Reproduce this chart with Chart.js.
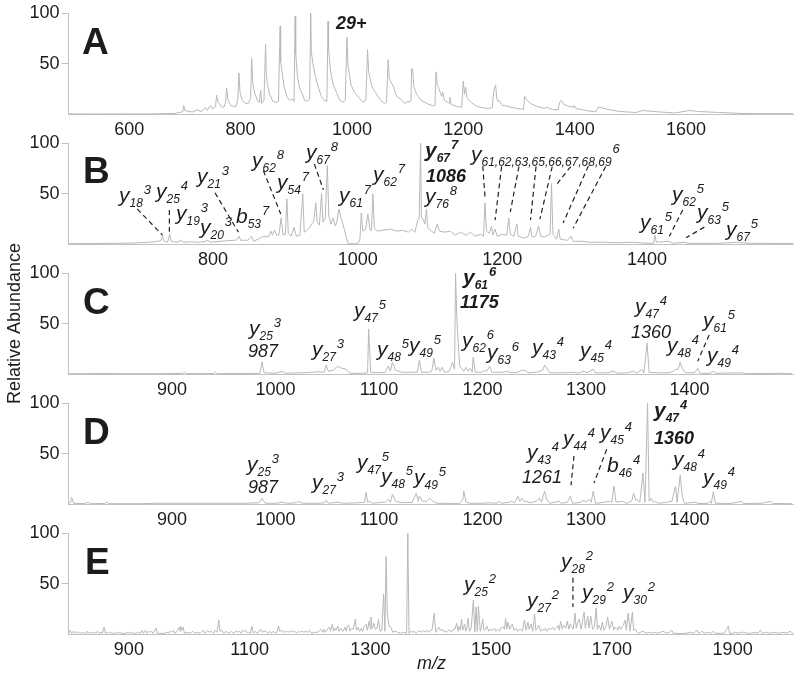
<!DOCTYPE html>
<html>
<head>
<meta charset="utf-8">
<title>Relative Abundance vs m/z</title>
<script src="https://cdn.jsdelivr.net/npm/chart.js@4"></script>
<style>
  html, body { margin: 0; padding: 0; background: #fff; }
  #wrap { position: relative; width: 800px; height: 676px; overflow: hidden; }
  #wrap canvas { position: absolute; left: 0; top: 0; }
</style>
</head>
<body>
<div id="wrap">
  <canvas id="panel-a" width="800" height="676"></canvas>
  <canvas id="panel-b" width="800" height="676"></canvas>
  <canvas id="panel-c" width="800" height="676"></canvas>
  <canvas id="panel-d" width="800" height="676"></canvas>
  <canvas id="panel-e" width="800" height="676"></canvas>
</div>
<script>
// spectra as [m/z, relative abundance]
const spectrumA = [[491,.6],[540,.5],[584,.6],[586,1.6],[588,.6],[640,.6],[680,1],[690,2],[696,2.5],[698,9],[700,4],[707,3],[714,2.5],[722,4.5],[730,3],[737,7],[740,4],[746,9],[750,5.5],[755,8],[757,19],[759,13],[765,8],[770,7],[773,12],[775,26],[777,15],[782,9],[788,8],[792,8],[795,15],[797,41],[799,22],[803,14],[808,11],[814,11],[818,16],[820,55],[822,30],[826,20],[831,13],[834,12],[836,24],[838,11],[842,14],[845,69],[846,42],[848,30],[852,20],[858,13],[864,12],[868,13],[871,87],[872,52],[874,44],[878,28],[883,18],[888,14],[892,15],[894,15],[896,13],[898,97],[899,60],[902,38],[906,26],[911,20],[915,14],[919,13],[924,15],[926,100],[927,62],[930,50],[934,38],[940,26],[945,18],[950,14],[955,13],[957,92],[958,66],[961,45],[966,30],[972,22],[978,14],[984,12],[988,14],[991,76],[993,48],[998,30],[1004,22],[1012,17],[1020,12],[1025,14],[1028,64],[1030,42],[1036,27],[1042,22],[1050,15],[1058,11],[1062,12],[1065,54],[1067,36],[1070,32],[1074,28],[1080,18],[1088,15],[1095,11],[1100,13],[1104,12],[1106,14],[1107,45],[1109,45],[1111,28],[1116,20],[1124,14],[1134,11],[1145,8.5],[1149,9],[1151,42],[1153,30],[1157,24],[1161,18],[1163,22],[1166,14],[1172,12],[1175,11],[1176,17],[1178,10],[1188,8],[1197,7],[1200,33],[1202,20],[1204,27],[1207,16],[1214,12],[1224,8],[1236,6.5],[1246,6],[1252,7],[1254,20],[1256,26],[1258,29],[1260,16],[1262,13],[1264,14],[1270,9],[1280,8],[1295,6],[1308,5],[1310,18],[1313,15],[1320,11],[1332,8],[1345,6],[1350,7],[1360,5],[1370,4.5],[1373,12],[1376,14],[1380,10],[1390,8],[1398,7],[1399,9],[1402,6],[1420,4],[1438,2.5],[1442,7],[1446,7],[1460,5],[1480,3],[1510,2],[1523,4],[1540,3],[1580,1.5],[1607,4],[1620,3],[1660,2],[1700,1],[1730,.8],[1792,.8]];

const spectrumB = [[600,.6],[640,.8],[665,1],[690,1.2],[712,2],[724,3],[728,4],[730,8],[732,3],[737,2],[740,10],[742,3],[750,2],[756,4],[758,2],[770,2.5],[780,2],[790,3],[793,4],[796,2],[810,3],[820,3.5],[828,4],[832,4],[836,8],[838,4],[845,4],[848,4],[853,8],[856,3],[862,5],[867,7],[872,8],[876,7],[880,13],[882,9],[885,14],[888,9],[891,9],[894,26],[897,9],[900,10],[902,45],[904,11],[908,8],[912,17],[915,8],[920,9],[924,50],[926,12],[930,14],[934,17],[936,20],[939,22],[942,41],[944,22],[947,19],[950,50],[952,22],[955,26],[958,78],[960,28],[963,20],[966,26],[969,18],[971,22],[974,35],[977,26],[981,16],[984,7],[987,.5],[1000,.5],[1003,5],[1005,31],[1007,13],[1011,15],[1014,30],[1017,14],[1019,14],[1021,50],[1023,16],[1027,13],[1035,14],[1045,15],[1055,13],[1062,14],[1070,12],[1075,15],[1079,12],[1083,24],[1085,26],[1087,100],[1088,27],[1091,24],[1093,20],[1095,35],[1097,16],[1102,13],[1106,11],[1110,20],[1113,13],[1120,12],[1128,13],[1135,9],[1142,12],[1150,9],[1156,12],[1162,8],[1170,10],[1174,8],[1176,41],[1178,13],[1182,11],[1185,18],[1187,9],[1190,15],[1193,8],[1200,10],[1206,9],[1209,26],[1211,10],[1216,8],[1220,20],[1222,8],[1230,6],[1236,8],[1239,17],[1241,7],[1246,8],[1250,18],[1253,8],[1258,7],[1263,9],[1266,10],[1268,60],[1270,10],[1275,5],[1278,15],[1280,5],[1290,4],[1295,8],[1298,3],[1310,3],[1320,2],[1340,2],[1360,1.5],[1380,2],[1400,1],[1409,1],[1411,9],[1413,2],[1431,3],[1435,1],[1452,2],[1456,1],[1500,1],[1524,2],[1540,1],[1602,.8]];

const spectrumC = [[800,.5],[830,.8],[860,.6],[880,.6],[910,.8],[912,2],[914,.7],[940,.7],[942,2],[944,.7],[975,.8],[985,1],[987,12.5],[989,1.5],[1000,1],[1006,3],[1010,1],[1025,1.5],[1035,2],[1042,2.5],[1047,2],[1049,9],[1051,3],[1056,4],[1060,8],[1064,6],[1068,5],[1072,1],[1085,1],[1089,1.5],[1090,45],[1092,2],[1100,1.5],[1106,2],[1109,8],[1111,3],[1113,12],[1116,4],[1122,2],[1130,2],[1137,2],[1139,14],[1141,2],[1148,2],[1151,3],[1153,16],[1155,4],[1157,7],[1159,3],[1161,7],[1163,2],[1168,3],[1171,12],[1173,5],[1174,100],[1175,60],[1176,40],[1178,8],[1180,6],[1182,3],[1184,7],[1186,3],[1188,6],[1190,2],[1191,17],[1193,2],[1199,2],[1202,4],[1204,3],[1207,8],[1209,2],[1220,2],[1223,3],[1228,1.5],[1234,2],[1238,4],[1241,4],[1244,1.5],[1252,2],[1258,4],[1260,9],[1262,6],[1265,1.5],[1280,1.5],[1288,2],[1292,1],[1298,3],[1301,1.5],[1307,5],[1309,1.5],[1322,1.5],[1325,3],[1327,3],[1330,1],[1340,1.5],[1346,3],[1349,1],[1354,5],[1356,1.5],[1359,31],[1361,2],[1368,1.5],[1380,1.5],[1384,3],[1387,5],[1389,5],[1391,12],[1393,6],[1396,1.5],[1405,1.5],[1408,6],[1410,1],[1420,1],[1423,3],[1425,1],[1450,1.5],[1455,.7],[1478,.8],[1485,1],[1499,.6]];

const spectrumD = [[800,.6],[802,2],[803,7],[805,1],[815,.6],[819,2],[821,.6],[835,.8],[837,2],[839,.6],[870,.6],[885,1],[920,1],[945,1],[970,1],[984,1.5],[987,6],[990,1],[1000,1],[1006,2],[1012,1],[1020,1.5],[1022,3],[1026,1],[1040,1],[1047,1.5],[1049,4],[1051,1],[1060,2],[1066,1],[1080,1.5],[1086,2],[1087.5,12],[1089,2],[1091,3],[1094,1],[1102,2],[1106,2],[1109,5],[1111,2],[1113,10],[1116,3],[1122,1.5],[1132,2],[1136,11],[1138,3],[1139,8],[1142,3],[1146,3],[1149,6],[1152,3],[1156,1],[1178,.8],[1181,5],[1182,13],[1184,2],[1188,1],[1200,1],[1208,1.5],[1214,1],[1216,3],[1218,1],[1226,2],[1228,3],[1231,1.5],[1234,8],[1236,3],[1238,6],[1240,3],[1242,3],[1246,1.5],[1252,3],[1255,6],[1257,2],[1260,13],[1262,5],[1265,1],[1274,3],[1276,1],[1282,2],[1285,8],[1287,1],[1295,2],[1298,4],[1300,2],[1303,5],[1305,2],[1307,13],[1309,1],[1318,2],[1323,3],[1325,2],[1327,18],[1329,2],[1335,3],[1339,1],[1344,3],[1346,11],[1348,4],[1349,5],[1352,2],[1355,31],[1357,2],[1359.5,100],[1361,3],[1363,6],[1365,2],[1367,3],[1370,1],[1378,2],[1383,3],[1386.5,18],[1388,2],[1391,29],[1393,8],[1395,1],[1406,2],[1408,.8],[1418,1],[1420,3],[1421,1],[1423,12],[1425,1],[1440,.8],[1450,3],[1452,.8],[1470,1],[1478,3],[1481,.8],[1499,.6]];

const spectrumE = [[800,1],[803,4],[805,1],[808,3],[810,1],[813,3],[815,1],[818,2],[821,1],[824,2],[826,1],[829,1],[831,3],[833,1],[836,2],[838,1],[842,2],[845,1],[848,3],[850,1],[854,2],[856,1],[859,7],[861,1],[864,2],[866,1],[870,2],[872,1],[876,1],[879,2],[881,1],[885,2],[888,.8],[892,1],[895,1],[899,2],[902,1],[905,2],[908,.8],[912,1],[916,2],[919,1],[922,4],[924,1],[928,4],[930,1],[933,3],[935,2],[938,3],[940,1],[945,6],[947,1],[952,1],[958,.8],[963,2],[966,1],[968,3],[971,2],[974,4],[976,1],[980,3],[983,7],[985,3],[986,8],[988,4],[990,7],[992,1],[996,2],[1000,1],[1004,2],[1006,3],[1009,1],[1013,2],[1018,1],[1023,4],[1026,1],[1030,4],[1033,2],[1037,3],[1040,1],[1043,4],[1046,2],[1049,14],[1051,3],[1054,4],[1057,1],[1061,3],[1065,1],[1068,2],[1070,3],[1073,1],[1077,3],[1080,2],[1083,3],[1086,1],[1088,4],[1090,3],[1093,4],[1095,2],[1098,2],[1101,1],[1104,8],[1106,1],[1109,3],[1112,1],[1115,2],[1118,5],[1121,2],[1124,3],[1127,3],[1130,1],[1133,3],[1136,1],[1139,3],[1142,1],[1145,2],[1148,8],[1150,3],[1153,4],[1155,2],[1158,3],[1160,2],[1163,3],[1166,2],[1169,4],[1172,2],[1175,3],[1178,1],[1181,3],[1184,2],[1187,3],[1190,2],[1193,3],[1196,2],[1199,4],[1203,1],[1207,2],[1213,2],[1216,4],[1218,5],[1221,2],[1223,5],[1225,2],[1228,4],[1230,6],[1232,7],[1234,3],[1237,10],[1239,3],[1241,6],[1243,4],[1246,8],[1248,3],[1251,6],[1253,4],[1255,3],[1258,7],[1260,3],[1262,8],[1264,9],[1266,3],[1269,6],[1272,5],[1275,15],[1277,4],[1280,7],[1282,3],[1285,6],[1287,3],[1290,8],[1293,10],[1295,4],[1298,13],[1300,5],[1301,17],[1303,6],[1306,11],[1308,5],[1311,6],[1313.5,15],[1316,3],[1319,4],[1322,40],[1324,3],[1326,77],[1328,20],[1331,8],[1334,7],[1337,2],[1341,3],[1345,2],[1350,1],[1355,2],[1360,1],[1362,100],[1364,1],[1367,3],[1370,2],[1373,3],[1376,1],[1379,3],[1382,3],[1385,2],[1388,4],[1391,2],[1394,4],[1397,2],[1400,4],[1402,4],[1405.9,21],[1408,2],[1411,5],[1413,7],[1416,4],[1419,5],[1421,3],[1424,3],[1426,2],[1429,4],[1432,4],[1434,2],[1437,5],[1440,5],[1443,11],[1445,3],[1447,8],[1449,4],[1451,15],[1453,4],[1456,10],[1458,3],[1460,7],[1462,16],[1464,3],[1467,6],[1470.6,34],[1473,2],[1475,27],[1477,3],[1479,28],[1482,3],[1484,7],[1486,15],[1488,4],[1491,5],[1493,8],[1496,3],[1499,5],[1502,4],[1505,6],[1508,3],[1511,5],[1514,3],[1517,7],[1520,7],[1522,5],[1524,16],[1526,5],[1528,12],[1531,5],[1533,8],[1535,10],[1538,4],[1541,6],[1544,3],[1547,5],[1549,5],[1552,3],[1555,14],[1558,4],[1561,12],[1563,5],[1566,10],[1569,3],[1572,20],[1574,4],[1577,7],[1579,9],[1582,3],[1585,5],[1588,4],[1590,6],[1593,3],[1596,6],[1599,5],[1602,7],[1605,4],[1608,6],[1611,9],[1613,4],[1615,13],[1618,5],[1620,9],[1622,8],[1624,6],[1626,13],[1629,5],[1631,10],[1633,8],[1636,5],[1639,21],[1641,6],[1643,11],[1646,15],[1649,5],[1651,12],[1654,22],[1656,6],[1658,12],[1660,18],[1662,6],[1665,18],[1668,5],[1671,7],[1674,26],[1676,5],[1678,9],[1680,7],[1682,4],[1684,12],[1687,4],[1690,7],[1693,17],[1696,5],[1698,9],[1700,13],[1703,4],[1705,7],[1708,6],[1710,4],[1712,8],[1715,5],[1717,8],[1719,9],[1722,14],[1724,4],[1727,21],[1730,3],[1734,22],[1736,4],[1739,5],[1742,2],[1745,1],[1750,3],[1755,2],[1758,1],[1762,2],[1766,1],[1770,2],[1776,1],[1780,2],[1785,3],[1790,1],[1795,2],[1799,4],[1802,1],[1808,1],[1815,.6],[1822,1],[1830,2],[1835,1],[1838,2],[1841,4],[1844,1],[1847,2],[1850,3],[1853,1],[1860,2],[1864,1],[1868,3],[1871,1],[1880,1],[1886,1],[1893,8],[1895,1],[1900,1],[1905,2],[1910,1],[1915,2],[1920,2],[1925,1],[1930,1],[1938,2],[1942,1],[1946,4],[1949,1],[1956,2],[1962,1],[1970,2],[1976,1],[1985,2],[1990,1],[1995,3],[2000,1]];

// x axis ranges and tick labels of each panel
const rangeA = [491, 1792];
const rangeB = [600, 1602];
const rangeCD = [800, 1500];
const rangeE = [800, 2000];
const ticksA = [600, 800, 1000, 1200, 1400, 1600];
const ticksB = [800, 1000, 1200, 1400];
const ticksCD = [900, 1000, 1100, 1200, 1300, 1400];
const ticksE = [900, 1100, 1300, 1500, 1700, 1900];
const yTicks = [50, 100];

// dashed leaders from label to peak, [[m/z, abundance], [m/z, abundance]]
const leadersB = [
    [[695,35],[730,9]], [[739.5,34],[739.5,12.5]], [[802.6,51],[835,12]],
    [[869.5,73],[893.5,30]], [[940,79.5],[952.5,54]], [[1173,77.5],[1176,47]],
    [[1199,77],[1190,24]], [[1223,77],[1211,32]], [[1246.6,77],[1239,24]],
    [[1269,77],[1252,25]], [[1294.6,77],[1276,60]], [[1319,77.5],[1284,21]],
    [[1343,77],[1298,16]], [[1449.5,34],[1431,8]], [[1479.4,17],[1454,6.5]]
];
const leadersC = [[[1419,39],[1408,13]]];
const leadersD = [[[1288.4,48],[1285.5,19]], [[1320,54.5],[1307.7,21]]];
const leadersE = [[[1635.5,56],[1635.5,27]]];

const FAMILY = '"Liberation Sans", Arial, sans-serif';
const INK = '#1c1c1c';
const TRACE = '#b8b8b8';
const AXIS = '#c2c2c2';

// annotation helpers
function ion(base, sub, sup, x, y, bold) {
    return { kind: 'ion', base, sub, sup, x, y, bold };
}
function word(text, x, y, font) {
    return { kind: 'word', text, x, y, font };
}
function panelLetter(text, x, y) {
    return word(text, x, y, 'bold 37px ' + FAMILY);
}
function figure(text, x, y) {
    return word(text, x, y, 'italic 18px ' + FAMILY);
}
function boldFigure(text, x, y) {
    return word(text, x, y, 'italic bold 18px ' + FAMILY);
}

const notesA = [
    panelLetter('A', 82, 54),
    boldFigure('29+', 336, 29)
];
const notesB = [
    panelLetter('B', 83, 183),
    ion('y', '18', '3', 119, 202), ion('y', '25', '4', 156, 198), ion('y', '19', '3', 176, 220),
    ion('y', '20', '3', 200, 234), ion('y', '21', '3', 197, 183), ion('b', '53', '7', 236, 223),
    ion('y', '62', '8', 252, 167), ion('y', '54', '7', 277, 189), ion('y', '67', '8', 306, 159),
    ion('y', '61', '7', 339, 202), ion('y', '62', '7', 373, 181),
    ion('y', '67', '7', 425, 157, true), boldFigure('1086', 426, 182), ion('y', '76', '8', 425, 203),
    ion('y', '61,62,63,65,66,67,68,69', '6', 471, 161),
    ion('y', '62', '5', 672, 201), ion('y', '61', '5', 640, 229), ion('y', '63', '5', 697, 219), ion('y', '67', '5', 726, 236)
];
const notesC = [
    panelLetter('C', 83, 314),
    ion('y', '25', '3', 249, 335), figure('987', 248, 357), ion('y', '27', '3', 312, 356),
    ion('y', '47', '5', 354, 317), ion('y', '48', '5', 377, 356), ion('y', '49', '5', 409, 352),
    ion('y', '61', '6', 463, 284, true), boldFigure('1175', 460, 308),
    ion('y', '62', '6', 462, 347), ion('y', '63', '6', 487, 359), ion('y', '43', '4', 532, 354),
    ion('y', '45', '4', 580, 357), ion('y', '47', '4', 635, 313), figure('1360', 631, 338),
    ion('y', '48', '4', 667, 352), ion('y', '61', '5', 703, 327), ion('y', '49', '4', 707, 362),
    { kind: 'title', text: 'Relative Abundance', x: 20, y: 323.5 }
];
const notesD = [
    panelLetter('D', 83, 444),
    ion('y', '25', '3', 247, 471), figure('987', 248, 493), ion('y', '27', '3', 312, 489),
    ion('y', '47', '5', 357, 469), ion('y', '48', '5', 381, 483), ion('y', '49', '5', 414, 484),
    ion('y', '43', '4', 527, 459), figure('1261', 522, 483), ion('y', '44', '4', 563, 445),
    ion('y', '45', '4', 600, 439), ion('b', '46', '4', 607, 472),
    ion('y', '47', '4', 654, 417, true), boldFigure('1360', 654, 444),
    ion('y', '48', '4', 673, 466), ion('y', '49', '4', 703, 484)
];
const notesE = [
    panelLetter('E', 85, 574),
    ion('y', '25', '2', 464, 591), ion('y', '27', '2', 527, 607), ion('y', '28', '2', 561, 568),
    ion('y', '29', '2', 582, 599), ion('y', '30', '2', 623, 599),
    figure('m/z', 417, 669)
];

const notesPlugin = {
    id: 'notes',
    afterDatasetsDraw(chart, args, opts) {
        const ctx = chart.ctx;
        ctx.save();
        ctx.fillStyle = INK;
        ctx.textBaseline = 'alphabetic';
        ctx.textAlign = 'left';
        (opts.items || []).forEach(n => {
            if (n.kind === 'word') {
                ctx.font = n.font;
                ctx.fillText(n.text, n.x, n.y);
            } else if (n.kind === 'title') {
                ctx.save();
                ctx.translate(n.x, n.y);
                ctx.rotate(-Math.PI / 2);
                ctx.textAlign = 'center';
                ctx.font = '18px ' + FAMILY;
                ctx.fillText(n.text, 0, 0);
                ctx.restore();
            } else {
                const w = n.bold ? 'italic bold ' : 'italic ';
                ctx.font = w + '21px ' + FAMILY;
                ctx.fillText(n.base, n.x, n.y);
                const subX = n.x + ctx.measureText(n.base).width;
                ctx.font = w + '12px ' + FAMILY;
                ctx.fillText(n.sub, subX, n.y + 5);
                const supX = subX + ctx.measureText(n.sub).width + 1;
                ctx.font = w + '13px ' + FAMILY;
                ctx.fillText(n.sup, supX, n.y - 8);
            }
        });
        ctx.restore();
    }
};

function drawPanel(id, spectrum, range, xTicks, yTop, yBase, leaders, notes) {
    const datasets = [{
        data: spectrum,
        borderColor: TRACE,
        borderWidth: 1,
        pointRadius: 0,
        tension: 0
    }];
    leaders.forEach(l => datasets.push({
        data: l,
        borderColor: '#222',
        borderWidth: 1.2,
        borderDash: [5, 3.5],
        pointRadius: 0,
        tension: 0
    }));

    new Chart(document.getElementById(id), {
        type: 'line',
        data: { datasets: datasets },
        options: {
            responsive: false,
            animation: false,
            events: [],
            clip: false,
            layout: { padding: { left: 0, right: 7, top: yTop, bottom: 676 - yBase - 30 } },
            plugins: {
                legend: { display: false },
                tooltip: { enabled: false },
                notes: { items: notes }
            },
            scales: {
                x: {
                    type: 'linear',
                    min: range[0],
                    max: range[1],
                    afterBuildTicks: s => { s.ticks = xTicks.map(v => ({ value: v })); },
                    afterFit: s => { s.height = 30; },
                    grid: { display: false, drawTicks: false },
                    border: { color: AXIS, width: 1 },
                    ticks: {
                        color: INK,
                        font: { family: FAMILY, size: 18 },
                        padding: 5,
                        maxRotation: 0,
                        autoSkip: false,
                        callback: v => String(v)
                    }
                },
                y: {
                    min: 0,
                    max: 100,
                    afterBuildTicks: s => { s.ticks = yTicks.map(v => ({ value: v })); },
                    afterFit: s => { s.width = 68.5; },
                    grid: { drawOnChartArea: false, drawTicks: true, tickLength: 7, color: AXIS },
                    border: { color: AXIS, width: 1 },
                    ticks: {
                        color: INK,
                        font: { family: FAMILY, size: 18 },
                        padding: 2
                    }
                }
            }
        },
        plugins: [notesPlugin]
    });
}

drawPanel('panel-a', spectrumA, rangeA, ticksA, 13, 114.5, [], notesA);
drawPanel('panel-b', spectrumB, rangeB, ticksB, 143.3, 244.3, leadersB, notesB);
drawPanel('panel-c', spectrumC, rangeCD, ticksCD, 273.3, 374.3, leadersC, notesC);
drawPanel('panel-d', spectrumD, rangeCD, ticksCD, 403.3, 504.3, leadersD, notesD);
drawPanel('panel-e', spectrumE, rangeE, ticksE, 533.3, 634.3, leadersE, notesE);
</script>
</body>
</html>
